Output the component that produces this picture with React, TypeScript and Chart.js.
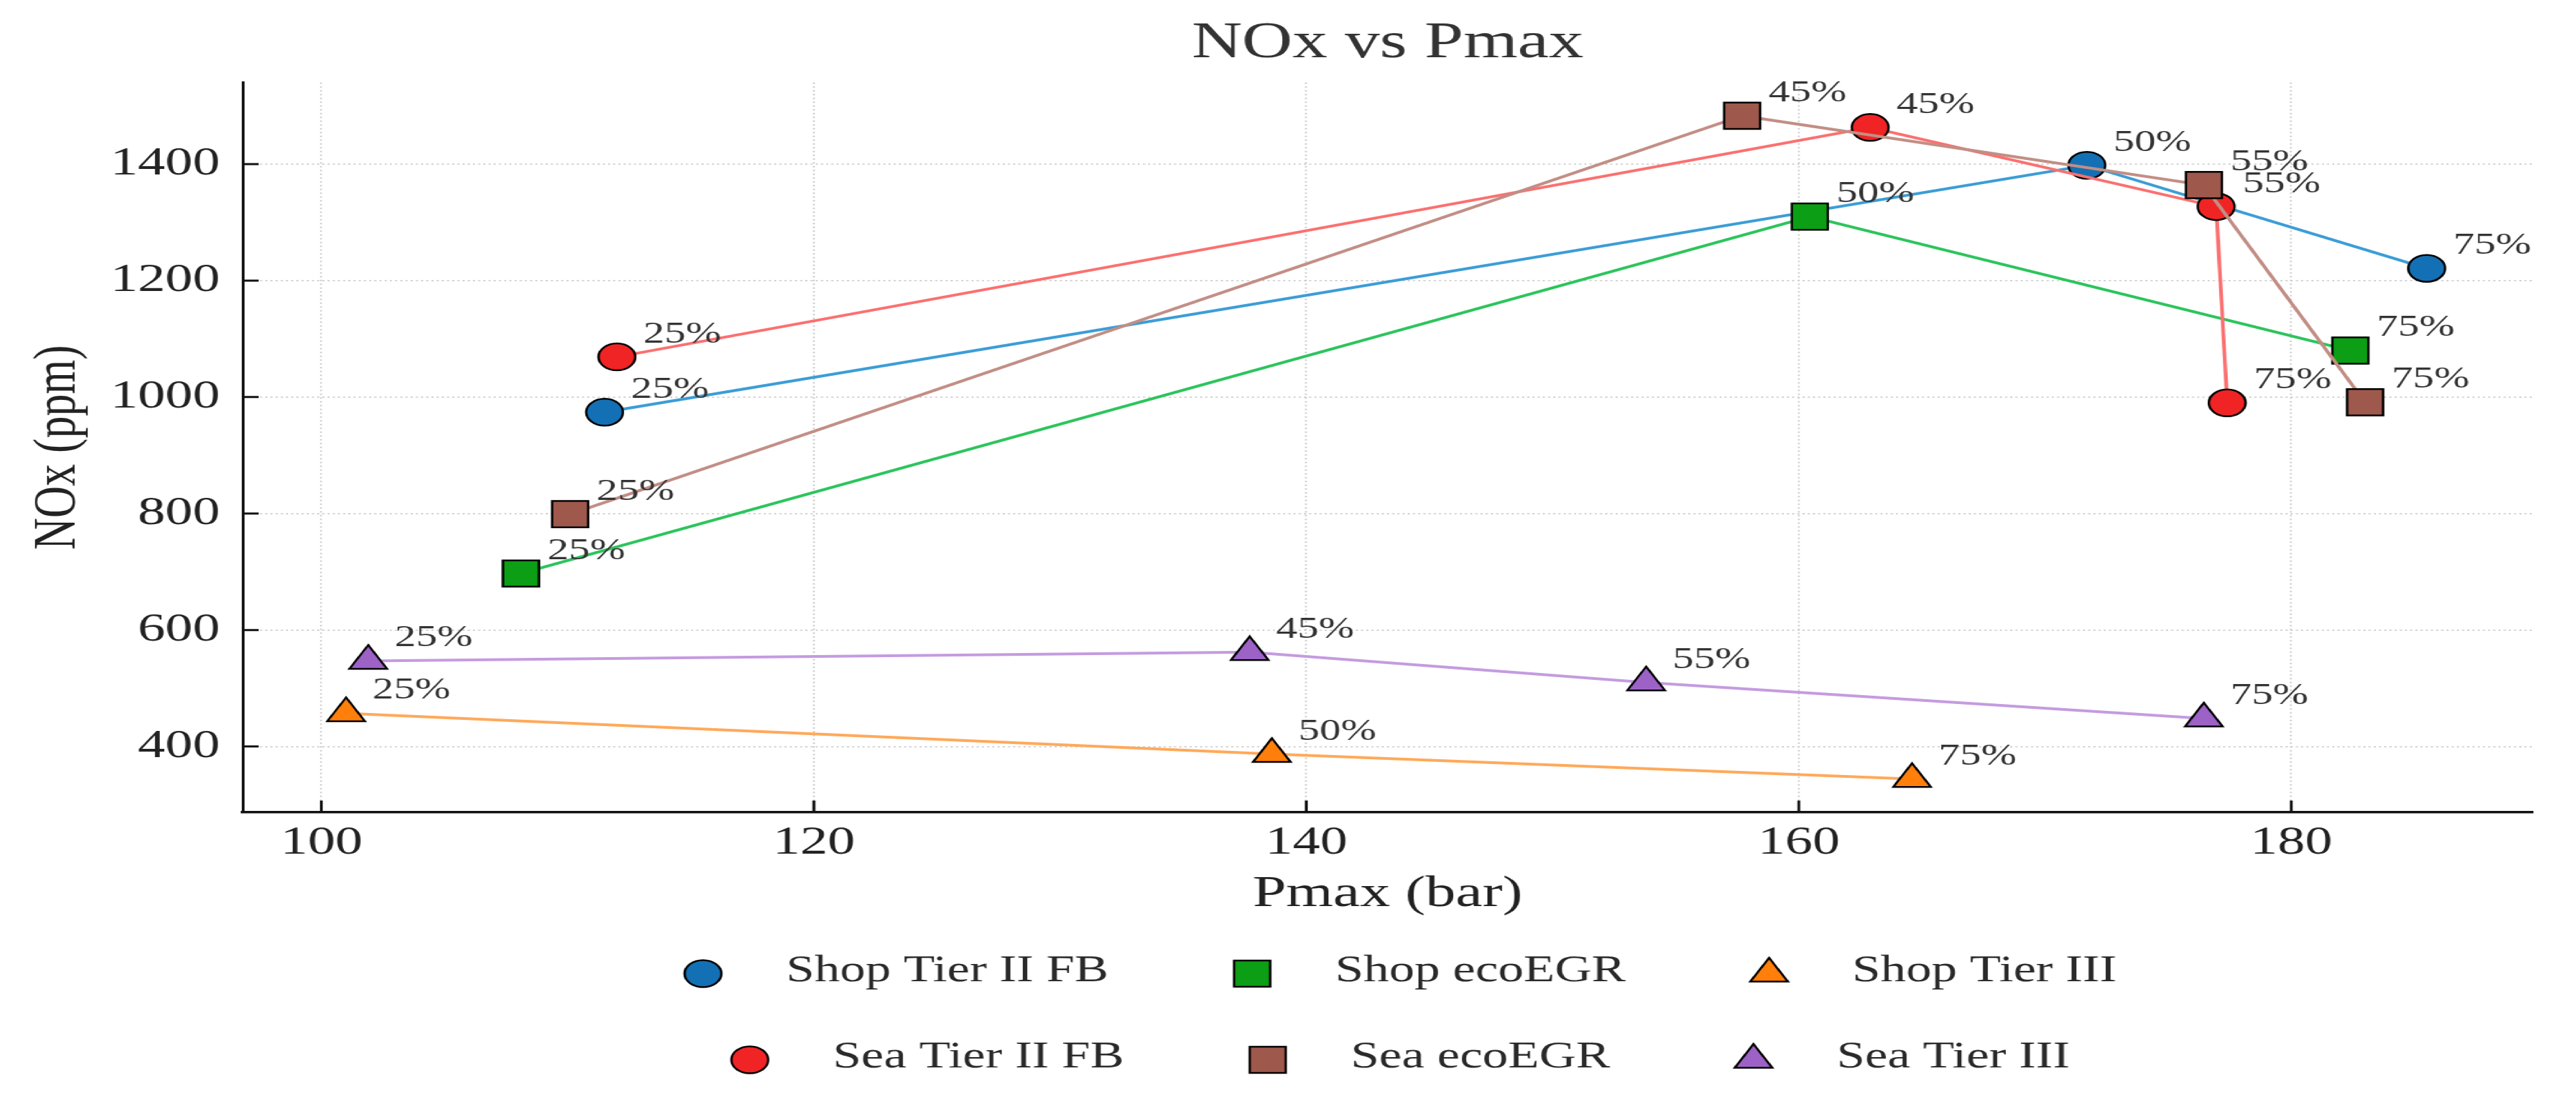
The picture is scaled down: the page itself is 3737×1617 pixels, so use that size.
import React, { useEffect, useRef } from "react";
import { Chart, registerables } from "chart.js";
import { drawPoint } from "chart.js/helpers";

Chart.register(...registerables);

// the reference picture is horizontally stretched, so the chart is drawn narrow and scaled in x
const CANVAS_W = 2728;
const CANVAS_H = 1617;
const STRETCH = 3737 / CANVAS_W;
const FONT = "'Liberation Serif', 'Times New Roman', serif";

const xTickLabels = [100, 120, 140, 160, 180];
const yTickLabels = [400, 600, 800, 1000, 1200, 1400];

const shopTierIIFbX = [111.5, 171.7, 185.5];
const shopTierIIFbY = [974, 1398, 1221];
const shopTierIIFbLoads = ["25%", "50%", "75%"];

const shopEcoEgrX = [108.1, 160.45, 182.4];
const shopEcoEgrY = [697, 1310, 1080];
const shopEcoEgrLoads = ["25%", "50%", "75%"];

const shopTierIIIX = [101.0, 138.6, 164.6];
const shopTierIIIY = [457, 387, 344];
const shopTierIIILoads = ["25%", "50%", "75%"];

const seaTierIIFbX = [112.0, 162.9, 176.95, 177.4];
const seaTierIIFbY = [1069, 1463, 1327, 990];
const seaTierIIFbLoads = ["25%", "45%", "55%", "75%"];

const seaEcoEgrX = [110.1, 157.7, 176.45, 183.0];
const seaEcoEgrY = [799, 1483, 1364, 991];
const seaEcoEgrLoads = ["25%", "45%", "55%", "75%"];

const seaTierIIIX = [101.9, 137.7, 153.8, 176.45];
const seaTierIIIY = [547, 562, 510, 448];
const seaTierIIILoads = ["25%", "45%", "55%", "75%"];

const series = [
  { label: "Shop Tier II FB", xs: shopTierIIFbX, ys: shopTierIIFbY, loads: shopTierIIFbLoads, fill: "#1470b4", line: "#3b9dd6", style: "circle", r: 19.5 },
  { label: "Shop ecoEGR", xs: shopEcoEgrX, ys: shopEcoEgrY, loads: shopEcoEgrLoads, fill: "#0c9e14", line: "#2cc45c", style: "rect", r: 27 },
  { label: "Shop Tier III", xs: shopTierIIIX, ys: shopTierIIIY, loads: shopTierIIILoads, fill: "#ff7f0a", line: "#ffa95a", style: "triangle", r: 23 },
  { label: "Sea Tier II FB", xs: seaTierIIFbX, ys: seaTierIIFbY, loads: seaTierIIFbLoads, fill: "#f02424", line: "#fb7070", style: "circle", r: 19.5 },
  { label: "Sea ecoEGR", xs: seaEcoEgrX, ys: seaEcoEgrY, loads: seaEcoEgrLoads, fill: "#9e584c", line: "#c28e85", style: "rect", r: 27 },
  { label: "Sea Tier III", xs: seaTierIIIX, ys: seaTierIIIY, loads: seaTierIIILoads, fill: "#9d62c6", line: "#c49be0", style: "triangle", r: 23 },
];

const legendRows = [[0, 1, 2], [3, 4, 5]];

// percent labels next to every point
const loadLabels = {
  id: "loadLabels",
  afterDatasetsDraw(chart: any) {
    const ctx = chart.ctx;
    ctx.save();
    ctx.font = `45px ${FONT}`;
    ctx.fillStyle = "#333";
    ctx.textAlign = "left";
    ctx.textBaseline = "alphabetic";
    series.forEach((s, i) => {
      chart.getDatasetMeta(i).data.forEach((pt: any, j: number) => {
        ctx.fillText(s.loads[j], pt.x + 28, pt.y - 21);
      });
    });
    ctx.restore();
  },
};

// matplotlib style ticks pointing into the plot
const inwardTicks = {
  id: "inwardTicks",
  afterDraw(chart: any) {
    const { ctx, chartArea } = chart;
    const xs = chart.scales.x;
    const ys = chart.scales.y;
    ctx.save();
    ctx.strokeStyle = "#111";
    ctx.lineWidth = 3;
    ctx.beginPath();
    xs.ticks.forEach((t: any) => {
      const px = xs.getPixelForValue(t.value);
      ctx.moveTo(px, chartArea.bottom);
      ctx.lineTo(px, chartArea.bottom - 17);
    });
    ys.ticks.forEach((t: any) => {
      const py = ys.getPixelForValue(t.value);
      ctx.moveTo(chartArea.left, py);
      ctx.lineTo(chartArea.left + 17, py);
    });
    ctx.stroke();
    ctx.restore();
  },
};

// two centred legend rows, three entries each
const rowLegend = {
  id: "rowLegend",
  afterDraw(chart: any) {
    const { ctx, chartArea } = chart;
    ctx.save();
    ctx.font = `54px ${FONT}`;
    ctx.textAlign = "left";
    ctx.textBaseline = "middle";
    const cx = (chartArea.left + chartArea.right) / 2 + 14;
    legendRows.forEach((row, r) => {
      const y = chartArea.bottom + 234 + r * 125;
      const widths = row.map((i) => ctx.measureText(series[i].label).width);
      const total = 19 + row.length * 88 + (row.length - 1) * 152 + widths.reduce((a, b) => a + b, 0);
      let x = cx - total / 2 + 19;
      row.forEach((i, k) => {
        const s = series[i];
        ctx.fillStyle = s.fill;
        ctx.strokeStyle = "#000";
        ctx.lineWidth = 2.5;
        drawPoint(ctx, { pointStyle: s.style, radius: s.r, borderWidth: 2.5, rotation: 0 } as any, x, y);
        ctx.fillStyle = "#2a2a2a";
        ctx.fillText(s.label, x + 88, y - 3);
        x += 88 + widths[k] + 152;
      });
    });
    ctx.restore();
  },
};

const NoxChart = () => {
  const canvasRef = useRef<HTMLCanvasElement>(null);
  const chartInstance = useRef<any>(null);

  useEffect(() => {
    document.body.style.margin = "0";
    document.body.style.overflow = "hidden";
    if (!canvasRef.current) return;
    if (chartInstance.current) chartInstance.current.destroy();

    chartInstance.current = new Chart(canvasRef.current, {
      type: "scatter",
      data: {
        datasets: series.map((s, i) => ({
          label: s.label,
          data: s.xs.map((x, j) => ({ x, y: s.ys[j] })),
          showLine: true,
          borderColor: s.line,
          borderWidth: 4,
          pointStyle: s.style,
          pointRadius: s.r,
          pointBackgroundColor: s.fill,
          pointBorderColor: "#000",
          pointBorderWidth: 2.5,
          order: series.length - i, // later series on top, like matplotlib
        })),
      },
      options: {
        responsive: false,
        animation: false,
        events: [],
        layout: { padding: { top: 0, left: 0, right: 46, bottom: 281 } },
        plugins: {
          legend: { display: false },
          tooltip: { enabled: false },
          title: {
            display: true,
            text: "NOx vs Pmax",
            color: "#333",
            fullSize: false,
            font: { family: FONT, size: 74, weight: "normal" },
            padding: { top: 19, bottom: 12 },
          },
        },
        scales: {
          x: {
            type: "linear",
            min: 96.8,
            max: 189.8,
            afterFit: (scale: any) => {
              scale.height = 158;
            },
            afterBuildTicks: (scale: any) => {
              scale.ticks = xTickLabels.map((value) => ({ value }));
            },
            ticks: {
              padding: 10,
              color: "#222",
              font: { family: FONT, size: 58 },
              callback: (v: any) => String(v),
            },
            grid: { color: "#cdcdcd", lineWidth: 2, drawTicks: false },
            border: { display: true, color: "#111", width: 3.5, dash: [2, 3.5] },
            title: {
              display: true,
              text: "Pmax (bar)",
              color: "#222",
              font: { family: FONT, size: 64 },
              padding: { top: 0, bottom: 0 },
            },
          },
          y: {
            type: "linear",
            min: 287,
            max: 1540,
            afterFit: (scale: any) => {
              scale.width = 257;
            },
            afterBuildTicks: (scale: any) => {
              scale.ticks = yTickLabels.map((value) => ({ value }));
            },
            ticks: {
              padding: 24,
              color: "#222",
              font: { family: FONT, size: 58 },
              callback: (v: any) => String(v),
            },
            grid: { color: "#cdcdcd", lineWidth: 2, drawTicks: false },
            border: { display: true, color: "#111", width: 3, dash: [2, 3.5] },
            title: {
              display: true,
              text: "NOx (ppm)",
              color: "#222",
              font: { family: FONT, size: 64 },
              padding: { top: 24, bottom: 0 },
            },
          },
        },
      },
      plugins: [loadLabels, inwardTicks, rowLegend],
    } as any);

    return () => {
      if (chartInstance.current) {
        chartInstance.current.destroy();
        chartInstance.current = null;
      }
    };
  }, []);

  return (
    <div
      style={{
        width: CANVAS_W,
        height: CANVAS_H,
        transform: `scaleX(${STRETCH})`,
        transformOrigin: "0 0",
        background: "#fff",
      }}
    >
      <canvas ref={canvasRef} width={CANVAS_W} height={CANVAS_H} />
    </div>
  );
};

export default function App() {
  return <NoxChart />;
}
